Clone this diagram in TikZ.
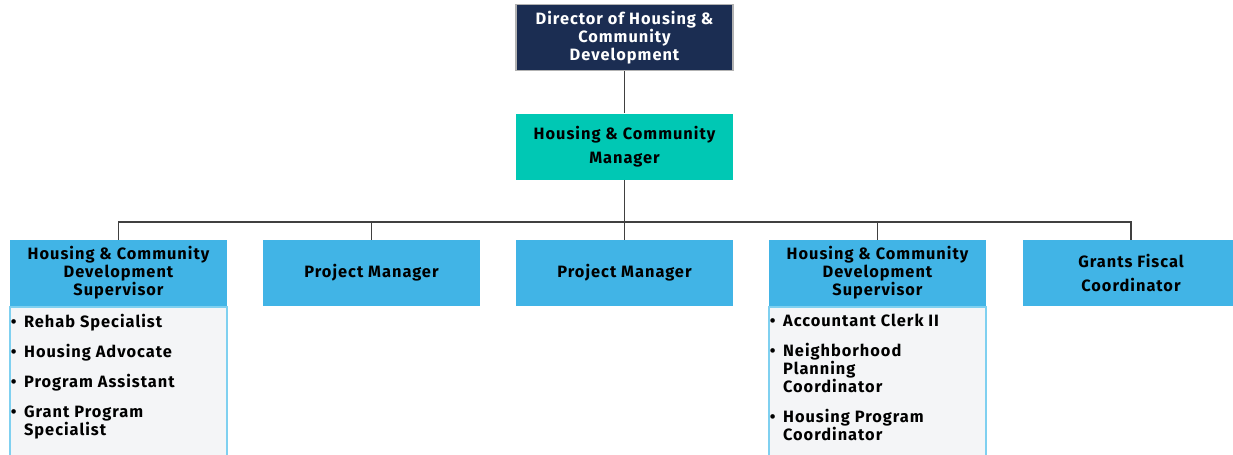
\documentclass[tikz,border=0pt]{standalone}
\usepackage{fontspec}
\setmainfont{Fira Sans}[LetterSpace=6]
\definecolor{navy}{HTML}{1B2D52}
\definecolor{teal}{HTML}{00C8B4}
\definecolor{sky}{HTML}{41B4E6}
\definecolor{listbg}{HTML}{F4F5F7}
\definecolor{listedge}{HTML}{7FD0F0}
\definecolor{wire}{HTML}{404040}
\newcommand{\bul}{\makebox[10pt][l]{\textbullet}}
\newcommand{\ind}{\hspace*{10pt}}
\begin{document}
\begin{tikzpicture}[x=0.75pt,y=-0.75pt,
  box/.style={rectangle, minimum width=162.75pt, minimum height=49.5pt, inner sep=0pt, align=center,
     font=\bfseries\fontsize{12.3}{13.5}\selectfont},
  dirbox/.style={box, fill=navy, draw=gray!60, line width=1pt, text=white},
  mgrbox/.style={box, fill=teal, font=\bfseries\fontsize{12.3}{18}\selectfont},
  staffbox/.style={box, fill=sky},
  listbox/.style={rectangle, fill=listbg, draw=listedge, line width=1.5pt, minimum width=162.75pt, anchor=north, inner sep=0pt, minimum height=120pt},
  listtext/.style={anchor=north west, align=left, inner sep=0pt, font=\bfseries\fontsize{12.3}{13.5}\selectfont},
  wireline/.style={draw=wire, line width=1.1pt}]
\clip (0,0) rectangle (1233,454);
\fill[white] (0,0) rectangle (1233,454);

\node[dirbox] (d) at (624.5,37.5) {Director of Housing \&\\Community\\Development};
\node[mgrbox] (m) at (624.5,146.5) {Housing \& Community\\Manager};

\node[staffbox] (b1) at (118.5,273) {Housing \& Community\\Development\\Supervisor};
\node[staffbox] (b2) at (371.5,273) {Project Manager};
\node[staffbox] (b3) at (624.5,273) {Project Manager};
\node[staffbox] (b4) at (877.5,273) {Housing \& Community\\Development\\Supervisor};
\node[staffbox, font=\bfseries\fontsize{12.3}{18}\selectfont] (b5) at (1131,273) {Grants Fiscal\\Coordinator};

\node[listbox] (l1) at (118.5,306) {};
\node[listbox] (l4) at (877.5,306) {};

\node[listtext] (t1) at (10.5,314) {\bul Rehab Specialist\\[9pt]
\bul Housing Advocate\\[9pt]
\bul Program Assistant\\[9pt]
\bul Grant Program\\
\ind Specialist};
\node[listtext] (t4) at (769.5,314) {\bul Accountant Clerk II\\[9pt]
\bul Neighborhood\\
\ind Planning\\
\ind Coordinator\\[9pt]
\bul Housing Program\\
\ind Coordinator};

\coordinate (j) at (624.5,222);
\draw[wireline] (d.south) -- (m.north);
\draw[wireline] (m.south) -- (j);
\draw[wireline] (b1.north) |- (j) -| (b5.north);
\draw[wireline] (b2.north) -- (b2.north |- j);
\draw[wireline] (b3.north) -- (j);
\draw[wireline] (b4.north) -- (b4.north |- j);
\end{tikzpicture}
\end{document}
